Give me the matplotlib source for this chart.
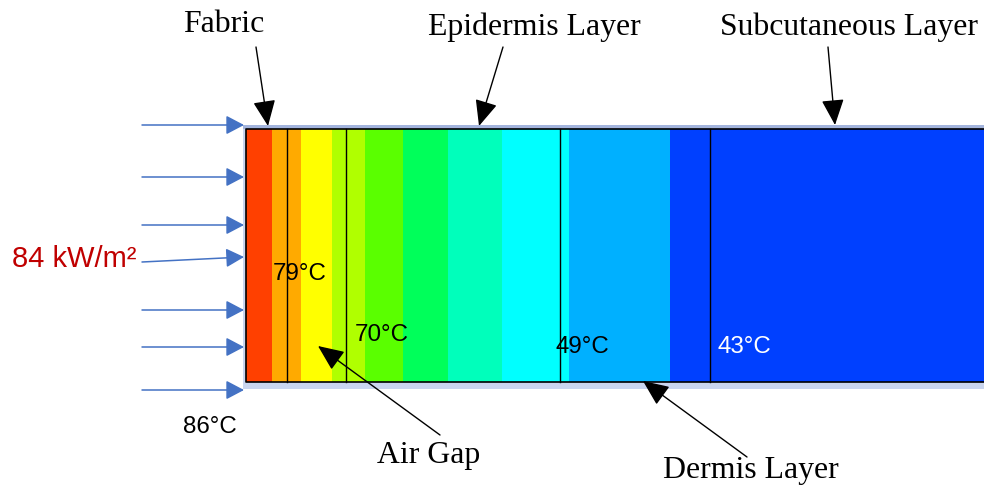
import numpy as np
import matplotlib
matplotlib.use("Agg")
import matplotlib.pyplot as plt
from matplotlib.patches import Rectangle

# Temperature bands across fabric, air gap and skin layers (diagram units, left to right)
band_edges = [246, 272, 301, 332, 365, 403, 448, 502, 569, 670, 984]
band_colors = ['#ff4000', '#ffaa00', '#ffff00', '#b0ff00', '#5aff00',
               '#00ff5a', '#00ffbb', '#00ffff', '#00b0ff', '#0040ff']
# Interfaces: fabric | air gap | epidermis | dermis | subcutaneous
layer_boundaries = [287, 346, 560, 710]

temperature_labels = ['86°C', '79°C', '70°C', '49°C', '43°C']
heat_flux_label = '84 kW/m²'
layer_names = ['Fabric', 'Epidermis Layer', 'Subcutaneous Layer', 'Air Gap', 'Dermis Layer']

SANS = ['Liberation Sans', 'DejaVu Sans']
SERIF = ['Liberation Serif', 'DejaVu Serif']

fig = plt.figure(figsize=(9.84, 4.86), dpi=100)
ax = fig.add_axes([0, 0, 1, 1])
ax.set_xlim(0, 984)
ax.set_ylim(486, 0)
ax.axis('off')

top, bottom = 129, 382

# light frame around the domain
ax.add_patch(Rectangle((243, 125), 984 - 243, 389 - 125, facecolor='#c9d5ef', edgecolor='none', zorder=1))
ax.add_patch(Rectangle((243, 125), 984 - 243, 4, facecolor='#a3b4dd', edgecolor='none', zorder=1))

# temperature bands
edges = np.array(band_edges, dtype=float)
ax.bar(edges[:-1], bottom - top, width=np.diff(edges), bottom=top, align='edge',
       color=band_colors, edgecolor='none', zorder=2)

# domain outline and layer interfaces
ax.plot([984, 246, 246, 984], [top, top, bottom, bottom], color='black', lw=1.2, zorder=3)
for xb in layer_boundaries:
    ax.plot([xb, xb], [top, bottom], color='black', lw=1.0, zorder=3)

# incident heat flux arrows
flux_y = [125, 177, 225, 310, 347, 390]
blue = '#4472c4'
flux_style = dict(arrowstyle='-|>,head_length=1.1,head_width=0.58', color=blue, lw=1.1,
                  mutation_scale=10, shrinkA=0, shrinkB=0)
for y in flux_y:
    ax.annotate('', xy=(244, y), xytext=(142, y), arrowprops=flux_style, zorder=4)
ax.annotate('', xy=(244, 257), xytext=(142, 262), arrowprops=flux_style, zorder=4)
ax.text(12, 267, heat_flux_label, color='#c00000', fontsize=21, family=SANS,
        ha='left', va='baseline')

# temperature labels
temp_pos = [(183, 433, 'black'), (272.5, 280, 'black'), (355, 340.5, 'black'),
            (556, 352.5, 'black'), (718, 352.5, 'white')]
for lab, (x, y, c) in zip(temperature_labels, temp_pos):
    ax.text(x, y, lab, color=c, fontsize=17.4, family=SANS, ha='left', va='baseline', zorder=5)

# layer callouts
name_pos = [(183, 32), (428, 35), (720, 35), (377, 463), (663, 478)]
for lab, (x, y) in zip(layer_names, name_pos):
    ax.text(x, y, lab, color='black', fontsize=22.9, family=SERIF, ha='left', va='baseline')

call_style = dict(arrowstyle='-|>,head_length=1.6,head_width=0.7', color='black', lw=1.0,
                  mutation_scale=10, shrinkA=0, shrinkB=0)
callouts = [((268, 126), (256, 47)), ((479, 126), (503, 47)), ((835, 125), (828, 47)),
            ((318, 346), (440, 435)), ((643, 381), (747, 457))]
for tip, start in callouts:
    ax.annotate('', xy=tip, xytext=start, arrowprops=call_style, zorder=6)

fig.savefig('out.png', dpi=100)
